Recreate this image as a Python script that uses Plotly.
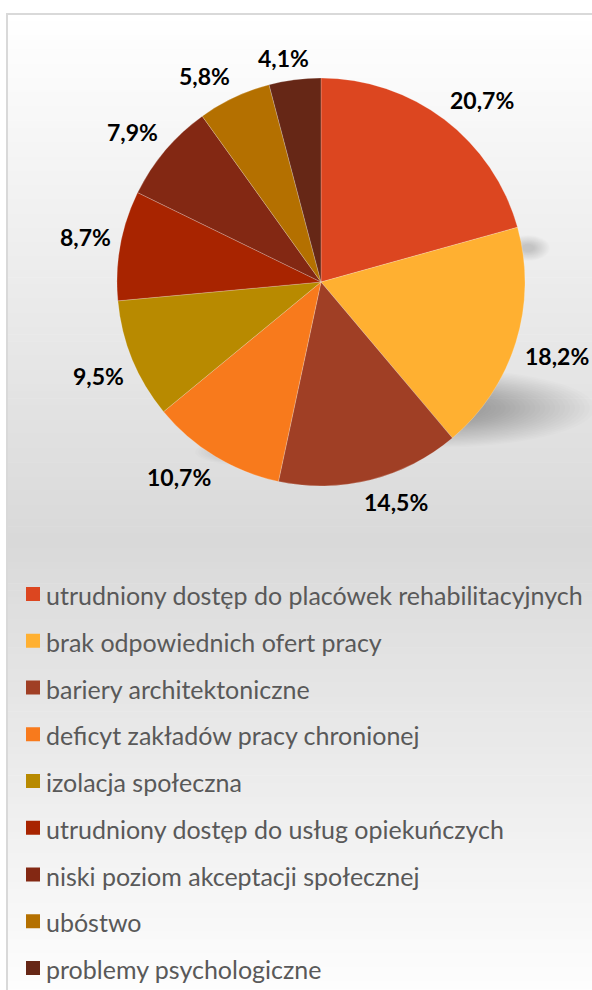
import math
import plotly.graph_objects as go

# Causes and their share of answers (%)
labels = [
    "utrudniony dostęp do placówek rehabilitacyjnych",
    "brak odpowiednich ofert pracy",
    "bariery architektoniczne",
    "deficyt zakładów pracy chronionej",
    "izolacja społeczna",
    "utrudniony dostęp do usług opiekuńczych",
    "niski poziom akceptacji społecznej",
    "ubóstwo",
    "problemy psychologiczne",
]
values = [20.7, 18.2, 14.5, 10.7, 9.5, 8.7, 7.9, 5.8, 4.1]
colors = ["#DC4620", "#FFB031", "#A03F25", "#F87A1C", "#B88A00",
          "#A82400", "#832813", "#B47000", "#662716"]

W, H = 592, 990
CX, CY, R = 321, 282, 204          # pie centre and radius in pixels


def px(x):
    return x / W


def py(y):
    return 1 - y / H


def fmt(v):
    return f"{v:.1f}".replace(".", ",") + "%"


def clip(v):
    return max(-1.0, min(1.0, v))


fig = go.Figure()

fig.add_trace(go.Pie(
    labels=labels, values=values, sort=False, direction="clockwise", rotation=0,
    marker=dict(colors=colors, line=dict(color="rgba(255,255,255,0.35)", width=0.6)),
    textinfo="none", hoverinfo="label+percent", showlegend=False,
    domain=dict(x=[px(CX - R), px(CX + R)], y=[py(CY + R), py(CY - R)]),
))

shapes = []

# background: white -> grey -> white vertical gradient inside the chart frame
top, mid, bottom = 14, 540, 1010
light, dark = 255, 217
n = 140
for i in range(n):
    y0 = top + (bottom - top) * i / n
    y1 = top + (bottom - top) * (i + 1) / n + 0.6
    yc = (y0 + y1) / 2
    if yc < mid:
        g = light - (light - dark) * (yc - top) / (mid - top)
    else:
        g = dark + (light - dark) * (yc - mid) / (bottom - mid)
    g = int(round(g))
    shapes.append(dict(type="rect", xref="paper", yref="paper", layer="below",
                       x0=px(7), x1=px(W + 10), y0=py(y0), y1=py(y1),
                       fillcolor=f"rgb({g},{g},{g})", line=dict(width=0)))


def soft_blob(ex, ey, rx, ry, layers, alpha, smin):
    """Stack of shrinking translucent ellipses giving a blurred shadow."""
    for k in range(layers):
        s = 1 - (1 - smin) * k / (layers - 1)
        shapes.append(dict(type="circle", xref="paper", yref="paper", layer="below",
                           x0=px(ex - rx * s), x1=px(ex + rx * s),
                           y0=py(ey + ry * s), y1=py(ey - ry * s),
                           fillcolor=f"rgba(0,0,0,{alpha})", line=dict(width=0)))


# soft drop shadow under the pie
soft_blob(430, 408, 165, 40, 26, 0.012, 0.25)
soft_blob(250, 452, 55, 14, 14, 0.012, 0.3)
soft_blob(528, 248, 22, 13, 14, 0.012, 0.3)

# chart frame
shapes.append(dict(type="rect", xref="paper", yref="paper", layer="below",
                   x0=px(7), x1=px(W + 20), y0=py(H + 20), y1=py(14),
                   fillcolor="rgba(0,0,0,0)", line=dict(color="#D9D9D9", width=2)))

annotations = []

# percentage labels: the label box corner nearest the pie sits just outside
# the rim, on the ray through the middle of its slice
total = sum(values)
cum = 0.0
gap, box_h = 10, 24
for v in values:
    text = fmt(v)
    box_w = 12.5 * len(text)
    a = (cum + v / 2) / total * 2 * math.pi
    cum += v
    s, c = math.sin(a), -math.cos(a)
    lx = CX + (R + gap) * s + box_w / 2 * clip(3 * s)
    ly = CY + (R + gap) * c + box_h / 2 * clip(3 * c)
    annotations.append(dict(x=px(lx), y=py(ly), xref="paper", yref="paper",
                            text=text, showarrow=False,
                            xanchor="center", yanchor="middle",
                            font=dict(family="Lato", size=23, color="#000000", weight="bold")))

# legend
row0, step = 594, 46.75
for i, (lab, col) in enumerate(zip(labels, colors)):
    yr = row0 + i * step
    shapes.append(dict(type="rect", xref="paper", yref="paper",
                       x0=px(26), x1=px(40), y0=py(yr + 7), y1=py(yr - 7),
                       fillcolor=col, line=dict(width=0)))
    annotations.append(dict(x=px(44), y=py(yr + 1), xref="paper", yref="paper",
                            text=lab, showarrow=False, xanchor="left", yanchor="middle",
                            font=dict(family="Lato", size=25, color="#595959")))

fig.update_layout(
    width=W, height=H,
    margin=dict(l=0, r=0, t=0, b=0),
    paper_bgcolor="#FFFFFF", plot_bgcolor="#FFFFFF",
    shapes=shapes, annotations=annotations,
    showlegend=False,
)

fig.write_html("out.html")
